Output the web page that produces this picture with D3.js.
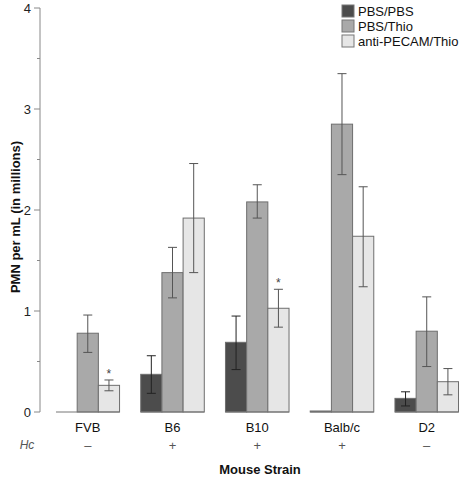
<!DOCTYPE html>
<html><head><meta charset="utf-8">
<script src="https://cdn.jsdelivr.net/npm/d3@7"></script>
<style>body{margin:0;background:#fff}svg{font-family:Arial,"Liberation Sans",sans-serif}</style>
</head><body><svg id="c" width="461" height="478"></svg>
<script>
const strains = ["FVB","B6","B10","Balb/c","D2"];
const hc = ["\u2013","+","+","+","\u2013"];
const series = ["PBS/PBS","PBS/Thio","anti-PECAM/Thio"];
const pbsPbs   = [0,    0.373, 0.69, 0.01, 0.135];
const pbsPbsLo = [null, 0.185, 0.42, null, 0.06];
const pbsPbsHi = [null, 0.557, 0.95, null, 0.20];
const pbsThio   = [0.78, 1.38, 2.08, 2.85, 0.80];
const pbsThioLo = [0.59, 1.13, 1.92, 2.35, 0.45];
const pbsThioHi = [0.96, 1.63, 2.25, 3.35, 1.14];
const anti   = [0.264, 1.92, 1.027, 1.74, 0.30];
const antiLo = [0.21, 1.38, 0.84, 1.24, 0.17];
const antiHi = [0.317, 2.46, 1.215, 2.23, 0.43];
const sig = [true,false,true,false,false];
const yTicks = [0,1,2,3,4];
const yMinor = [0.5,1.5,2.5,3.5];

const colors = ["#4c4c4c","#a9a9a9","#e6e6e6"];
const svg = d3.select("#c");
const y = d3.scaleLinear().domain([0,4]).range([412,8]);
const x = d3.scaleBand().domain(strains).range([45.4,469.1]).paddingInner(0.25).paddingOuter(0.125);
const xs = d3.scaleBand().domain(series).range([0,x.bandwidth()]);

const vals = [pbsPbs,pbsThio,anti], los=[pbsPbsLo,pbsThioLo,antiLo], his=[pbsPbsHi,pbsThioHi,antiHi];

// axis
const ax = svg.append("g").attr("transform","translate(40,0)");
ax.append("line").attr("y1",y(0)).attr("y2",y(4)).attr("stroke","#888");
yTicks.forEach(t=>{
  ax.append("line").attr("x1",-6).attr("x2",0).attr("y1",y(t)).attr("y2",y(t)).attr("stroke","#888");
  ax.append("text").attr("x",-9).attr("y",y(t)).attr("dy","0.35em").attr("text-anchor","end").attr("font-size",13).attr("fill","#222").text(t);
});
yMinor.forEach(t=>ax.append("line").attr("x1",-3).attr("x2",0).attr("y1",y(t)).attr("y2",y(t)).attr("stroke","#888"));

// bars
strains.forEach((s,i)=>{
  const g = svg.append("g").attr("transform",`translate(${x(s)},0)`);
  series.forEach((ser,k)=>{
    const v = vals[k][i];
    if(v>0){
      g.append("rect").attr("x",xs(ser)).attr("width",xs.bandwidth()).attr("y",y(v)).attr("height",y(0)-y(v))
        .attr("fill",colors[k]).attr("stroke","#6e6e6e").attr("stroke-width",1);
    }
    const lo=los[k][i], hi=his[k][i];
    if(lo!=null){
      const cx = xs(ser)+xs.bandwidth()/2;
      const ec = k===0?"#222":"#555";
      g.append("line").attr("x1",cx).attr("x2",cx).attr("y1",y(lo)).attr("y2",y(hi)).attr("stroke",ec);
      [lo,hi].forEach(e=>g.append("line").attr("x1",cx-4.5).attr("x2",cx+4.5).attr("y1",y(e)).attr("y2",y(e)).attr("stroke",ec));
    }
  });
  if(sig[i]){
    const cx = xs(series[2])+xs.bandwidth()/2;
    g.append("text").attr("x",cx).attr("y",y(his[2][i])-2).attr("text-anchor","middle").attr("font-size",12).attr("fill","#444").text("*");
  }
  g.append("line").attr("x1",0).attr("x2",x.bandwidth()).attr("y1",y(0)).attr("y2",y(0)).attr("stroke","#777");
  g.append("text").attr("x",x.bandwidth()/2).attr("y",427).attr("dy","0.35em").attr("text-anchor","middle").attr("font-size",13).attr("fill","#111").text(s);
  g.append("text").attr("x",x.bandwidth()/2).attr("y",445).attr("dy","0.35em").attr("text-anchor","middle").attr("font-size",13).attr("fill","#555").text(hc[i]);
});

svg.append("text").attr("x",27).attr("y",445).attr("dy","0.35em").attr("text-anchor","middle").attr("font-size",12).attr("font-style","italic").attr("fill","#555").text("Hc");
svg.append("text").attr("x",260).attr("y",469).attr("dy","0.35em").attr("text-anchor","middle").attr("font-size",13).attr("font-weight","bold").attr("fill","#111").text("Mouse Strain");
svg.append("text").attr("transform","translate(15,217) rotate(-90)").attr("dy","0.35em").attr("text-anchor","middle").attr("font-size",13).attr("font-weight","bold").attr("fill","#111").text("PMN per mL (in millions)");

// legend
const lg = svg.append("g").attr("transform","translate(342,5)");
series.forEach((ser,k)=>{
  lg.append("rect").attr("x",0).attr("y",k*15).attr("width",12).attr("height",12).attr("fill",colors[k]).attr("stroke","#777");
  lg.append("text").attr("x",16).attr("y",k*15+6).attr("dy","0.35em").attr("font-size",13).attr("fill","#111").text(ser);
});
</script></body></html>
